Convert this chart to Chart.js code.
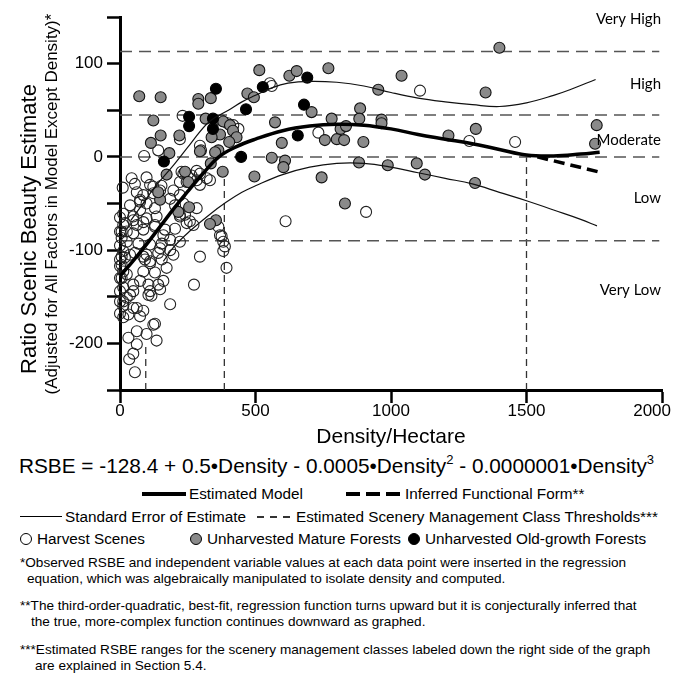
<!DOCTYPE html>
<html>
<head>
<meta charset="utf-8">
<script src="https://cdn.jsdelivr.net/npm/chart.js@4"></script>
<style>
  body { margin: 0; background: #fff; }
  #wrap { position: relative; width: 673px; height: 678px; font-family: "Liberation Sans", Arial, sans-serif; color: #000; }
  #rsbe { position: absolute; left: 0; top: 0; }
  .t { position: absolute; white-space: nowrap; }
  .leg { font-size: 15.3px; line-height: 16px; }
  .note { font-size: 13.6px; line-height: 16px; }
  .bar { position: absolute; background: #000; }
  .dot { position: absolute; width: 10px; height: 10px; border: 1.3px solid #000; border-radius: 50%; }
  sup { font-size: 13px; vertical-align: 9px; line-height: 0; }
</style>
</head>
<body>
<div id="wrap">
  <canvas id="rsbe" width="673" height="450"></canvas>

  <div class="t" style="left:0;width:673px;text-align:center;top:454px;font-size:20.8px;line-height:24px;">RSBE = -128.4 + 0.5•Density - 0.0005•Density<sup>2</sup> - 0.0000001•Density<sup>3</sup></div>

  <div class="bar" style="left:142px;top:492px;width:44px;height:4px;"></div>
  <div class="t leg" style="left:189px;top:486px;">Estimated Model</div>
  <div class="bar" style="left:346px;top:492px;width:14px;height:4px;"></div>
  <div class="bar" style="left:366px;top:492px;width:14px;height:4px;"></div>
  <div class="bar" style="left:386px;top:492px;width:14px;height:4px;"></div>
  <div class="t leg" style="left:405px;top:486px;">Inferred Functional Form**</div>

  <div class="bar" style="left:20px;top:516px;width:42px;height:1.3px;"></div>
  <div class="t leg" style="left:65px;top:509px;">Standard Error of Estimate</div>
  <div class="bar" style="left:257px;top:516px;width:7px;height:1.5px;background:#333;"></div>
  <div class="bar" style="left:270px;top:516px;width:7px;height:1.5px;background:#333;"></div>
  <div class="bar" style="left:283px;top:516px;width:7px;height:1.5px;background:#333;"></div>
  <div class="t leg" style="left:296px;top:509px;">Estimated Scenery Management Class Thresholds***</div>

  <div class="dot" style="left:20px;top:533px;background:#fff;"></div>
  <div class="t leg" style="left:37px;top:531px;">Harvest Scenes</div>
  <div class="dot" style="left:190px;top:533px;background:#8a8a8a;"></div>
  <div class="t leg" style="left:207px;top:531px;">Unharvested Mature Forests</div>
  <div class="dot" style="left:408px;top:533px;background:#000;"></div>
  <div class="t leg" style="left:425px;top:531px;">Unharvested Old-growth Forests</div>

  <div class="t note" style="left:20px;top:555px;">*Observed RSBE and independent variable values at each data point were inserted in the regression</div>
  <div class="t note" style="left:27px;top:571px;">equation, which was algebraically manipulated to isolate density and computed.</div>
  <div class="t note" style="left:20px;top:598px;">**The third-order-quadratic, best-fit, regression function turns upward but it is conjecturally inferred that</div>
  <div class="t note" style="left:31px;top:614px;">the true, more-complex function continues downward as graphed.</div>
  <div class="t note" style="left:20px;top:642px;">***Estimated RSBE ranges for the scenery management classes labeled down the right side of the graph</div>
  <div class="t note" style="left:35px;top:658px;">are explained in Section 5.4.</div>
</div>

<script>
// fitted curves (density, RSBE)
const modelDensity = [0, 50, 100, 150, 200, 250, 300, 365, 430, 500, 600, 700, 800, 900, 1000, 1100, 1200, 1300, 1400, 1500, 1600, 1700, 1770];
const modelRsbe    = [-128, -111, -93, -74, -55, -37, -20, 0, 11, 19, 28, 33, 35, 34, 30, 24, 19, 14, 8, 2, 1, 3, 5];
const inferredDensity = [1540, 1765];
const inferredRsbe    = [0, -16];
const upperDensity = [40, 80, 130, 200, 260, 330, 400, 450, 500, 560, 620, 700, 800, 900, 1000, 1100, 1200, 1300, 1400, 1500, 1600, 1660, 1755];
const upperRsbe    = [-68, -52, -32, -8, 14, 38, 50, 59, 66, 74, 79, 81, 80, 76, 69, 63, 59, 56, 54, 58, 66, 72, 83];
const lowerDensity = [160, 200, 260, 330, 390, 450, 500, 600, 700, 800, 900, 1000, 1100, 1200, 1300, 1400, 1500, 1600, 1700, 1760];
const lowerRsbe    = [-112, -96, -79, -62, -49, -38, -31, -19, -11, -7, -7, -11, -17, -23, -29, -38, -47, -57, -67, -74];

// class thresholds and density cut lines
const thresholds = [113, 45, 0, -90];
const densityCuts = [95, 385, 1500];
const cutTops = [-200, -22, 0];
const classNames = ['Very High', 'High', 'Moderate', 'Low', 'Very Low'];
const classLabelRsbe = [148, 78, 18, -44, -143];

// observed scenes [density, RSBE]
const oldGrowth = [[162,-5],[255,43],[255,33],[343,41],[343,30],[354,73],[465,51],[447,0],[527,75],[656,23],[679,56],[691,85]];

const mature = [[71,65],[150,64],[123,39],[150,23],[114,15],[182,4],[172,-19],[219,23],[289,62],[289,57],[335,63],[316,41],
  [369,24],[381,38],[406,34],[417,28],[430,21],[403,16],[363,7],[335,-7],[295,6],[379,-16],[338,21],[351,5],
  [470,68],[494,64],[514,93],[572,37],[597,15],[560,-1],[609,-4],[603,-11],[496,-21],[625,87],[652,92],[707,48],
  [756,18],[769,95],[781,41],[800,19],[744,-22],[148,-46],[141,-38],[255,-54],[215,-59],[354,-68],[332,-72],
  [240,-16],[252,-27],[814,30],[834,33],[827,18],[886,52],[883,41],[898,16],[882,-6],[965,40],[965,36],[953,72],
  [1039,87],[988,-9],[1095,-7],[1125,-19],[830,-50],[1349,69],[1400,117],[1212,23],[1313,30],[1310,-28],[1759,34],[1753,14]];

const harvest = [[231,44],[89,1],[141,7],[295,12],[299,7],[560,76],[553,79],[732,26],[221,19],[397,36],[375,39],[418,34],
  [437,30],[332,-25],[43,-23],[55,-29],[10,-33],[123,-32],[148,-36],[227,-16],[264,-20],[246,-27],[295,-18],[283,-25],
  [98,-22],[234,-18],[258,-23],[153,-31],[111,-30],[1107,71],[1289,17],[1458,16],[908,-59],[611,-69],
  [86,-41],[123,-39],[74,-46],[98,-50],[129,-55],[74,-57],[49,-64],[18,-71],[62,-73],[98,-66],[135,-64],[6,-80],
  [49,-82],[86,-78],[129,-75],[160,-84],[25,-91],[68,-93],[111,-94],[154,-93],[185,-89],[12,-101],[55,-103],[98,-105],
  [141,-103],[185,-100],[221,-64],[246,-71],[271,-73],[234,-50],[283,-55],[185,-45],[197,-36],[221,-27],[295,-30],
  [320,-23],[283,-15],[369,-84],[381,-91],[387,-96],[295,-107],
  [273,-137],[393,-119],[381,-101],[185,-158],[129,-179],[98,-190],[135,-197],[62,-187],[31,-194],[62,-201],[49,-211],
  [34,-217],[55,-231],[12,-155],[49,-162],[86,-165],[31,-169],[74,-171],[12,-140],[37,-148],[111,-144],[105,-137],
  [141,-137],[74,-133],[86,-123],[129,-124],[160,-133],[172,-119],[111,-112],[154,-110],[12,-123],[0,-130],[6,-116],
  [18,-108],[197,-105],[148,-98],[221,-91],[203,-77],[166,-78],[129,-73],[86,-70],[49,-68],[12,-73],[6,-87],[25,-80],
  [12,-61],[37,-52],[74,-48],[62,-38],[221,-41],[203,-52],[240,-62],[258,-69],[221,-62],[363,-75],[375,-85],
  [123,-180],[105,-148],[116,-149],[148,-142],[111,-114],[92,-110],[62,-162],[12,-172],[12,-160],[25,-151],[0,-144],
  [6,-130],[25,-126],[0,-117],[6,-107],[37,-105],[86,-107],[49,-144],[49,-137],
  [0,-65],[0,-95],[0,-155],[0,-168],[0,-110],[0,-80]];

const xTitle = 'Density/Hectare';
const yTitle = 'Ratio Scenic Beauty Estimate';
const ySubTitle = '(Adjusted for All Factors in Model Except Density)*';

const pts = (xs, ys) => xs.map((x, i) => ({x: x, y: ys[i]}));
const pairs = arr => arr.map(p => ({x: p[0], y: p[1]}));
const FONT = '"Liberation Sans", Arial, sans-serif';

const datasets = [
  { data: pts(modelDensity, modelRsbe), showLine: true, pointRadius: 0, borderColor: '#000', borderWidth: 3.5, tension: 0.4, order: 0 },
  { data: pts(inferredDensity, inferredRsbe), showLine: true, pointRadius: 0, borderColor: '#000', borderWidth: 3.5, borderDash: [11, 6], order: 0 },
  { data: pts(upperDensity, upperRsbe), showLine: true, pointRadius: 0, borderColor: '#111', borderWidth: 1.2, tension: 0.4, order: 0 },
  { data: pts(lowerDensity, lowerRsbe), showLine: true, pointRadius: 0, borderColor: '#111', borderWidth: 1.2, tension: 0.4, order: 0 },
  { data: pairs(oldGrowth), pointRadius: 5.5, pointBackgroundColor: '#000', pointBorderColor: '#000', pointBorderWidth: 1.1, clip: false, order: 1 },
  { data: pairs(mature), pointRadius: 5.5, pointBackgroundColor: '#8a8a8a', pointBorderColor: '#111', pointBorderWidth: 1.1, clip: false, order: 2 },
  { data: pairs(harvest), pointRadius: 5.5, pointBackgroundColor: 'rgba(255,255,255,0)', pointBorderColor: '#222', pointBorderWidth: 1.1, clip: false, order: 3 }
];
thresholds.forEach(t => datasets.push({
  data: [{x: 0, y: t}, {x: 1990, y: t}], showLine: true, pointRadius: 0,
  borderColor: '#555', borderWidth: 1.5, borderDash: [12, 7], order: 4
}));
densityCuts.forEach((d, i) => datasets.push({
  data: [{x: d, y: -250}, {x: d, y: cutTops[i]}], showLine: true, pointRadius: 0,
  borderColor: '#333', borderWidth: 1.3, borderDash: [7, 5], order: 4
}));

const textPlugin = {
  id: 'textPlugin',
  afterDraw(chart) {
    const {ctx} = chart;
    const x = chart.scales.x, y = chart.scales.y;
    ctx.save();
    ctx.fillStyle = '#000';
    ctx.font = '17px ' + FONT;
    ctx.textBaseline = 'top';
    x.ticks.forEach(t => {
      const label = String(t.value);
      const w = ctx.measureText(label).width;
      let px = x.getPixelForValue(t.value) - w / 2;
      if (px + w > 671) px = 671 - w;
      ctx.textAlign = 'left';
      ctx.fillText(label, px, 403);
    });
    ctx.textAlign = 'center';
    ctx.textBaseline = 'middle';
    ctx.font = '21px ' + FONT;
    ctx.fillText(xTitle, (x.left + x.right) / 2, 437);

    ctx.font = '15px Lato, sans-serif';
    ctx.textAlign = 'right';
    classNames.forEach((n, i) => ctx.fillText(n, 661, y.getPixelForValue(classLabelRsbe[i])));

    ctx.textAlign = 'center';
    ctx.save();
    ctx.translate(30, 229);
    ctx.rotate(-Math.PI / 2);
    ctx.font = '22px ' + FONT;
    ctx.fillText(yTitle, 0, 0);
    ctx.restore();
    ctx.save();
    ctx.translate(52, 204);
    ctx.rotate(-Math.PI / 2);
    ctx.font = '17px ' + FONT;
    ctx.fillText(ySubTitle, 0, 0);
    ctx.restore();
    ctx.restore();
  }
};

new Chart(document.getElementById('rsbe'), {
  type: 'scatter',
  data: { datasets: datasets },
  plugins: [textPlugin],
  options: {
    responsive: false,
    animation: false,
    layout: { padding: { top: 17, right: 11, left: 0, bottom: 0 } },
    plugins: { legend: { display: false }, tooltip: { enabled: false } },
    scales: {
      x: {
        type: 'linear', min: 0, max: 2000,
        ticks: { stepSize: 500, display: false },
        grid: { drawOnChartArea: false, drawTicks: true, tickLength: 13, tickWidth: 2.5, tickColor: '#000' },
        border: { width: 3, color: '#000' },
        afterFit(s) { s.height = 60; s.paddingLeft = 0; s.paddingRight = 0; }
      },
      y: {
        min: -250, max: 150,
        ticks: { stepSize: 50, padding: 4, color: '#000', font: { size: 17, family: FONT },
          callback: v => (v % 100 === 0 ? String(v) : '') },
        grid: { drawOnChartArea: false, drawTicks: true, tickLength: 13, tickWidth: 2.5, tickColor: '#000' },
        border: { width: 3, color: '#000' },
        afterFit(s) { s.width = 120; s.paddingTop = 0; s.paddingBottom = 0; }
      }
    }
  }
});
</script>
</body>
</html>
